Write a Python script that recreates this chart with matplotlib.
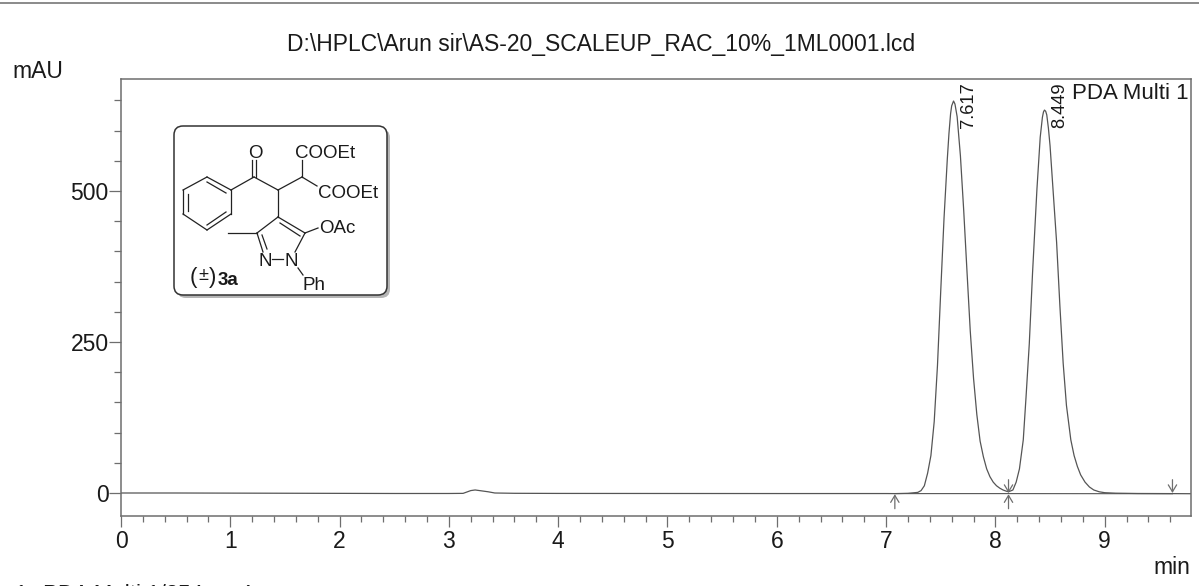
import numpy as np
import matplotlib
matplotlib.use("Agg")
import matplotlib.pyplot as plt
from matplotlib.patches import FancyBboxPatch
from matplotlib.lines import Line2D
from matplotlib.transforms import Affine2D

plt.rcParams['font.family'] = ['Liberation Sans', 'DejaVu Sans']

W, H = 1199, 586
GREY = '#6e6e6e'
TXT = '#1a1a1a'

# chromatogram: time (min), signal (mAU)
time_min = [0.0, 0.5, 1.0, 1.5, 2.0, 2.5, 3.0, 3.13, 3.17, 3.2, 3.24, 3.3, 3.36, 3.42, 3.6, 4.0, 5.0, 6.0, 7.0,
            7.08, 7.2, 7.29, 7.32, 7.35, 7.38, 7.41, 7.44, 7.47, 7.50, 7.53, 7.56, 7.575, 7.59, 7.60, 7.617,
            7.63, 7.65, 7.68, 7.71, 7.74, 7.77, 7.80, 7.83, 7.86, 7.89, 7.92, 7.95, 7.98, 8.01, 8.04, 8.07, 8.10, 8.12,
            8.16, 8.19, 8.22, 8.255, 8.28, 8.31, 8.34, 8.38, 8.41, 8.43, 8.44, 8.449,
            8.46, 8.47, 8.485, 8.50, 8.53, 8.56, 8.59, 8.62, 8.65, 8.69, 8.72, 8.75, 8.78, 8.82, 8.86, 8.90, 8.95, 9.0,
            9.1, 9.3, 9.6, 9.79]
signal = [0, 0, -0.2, -0.4, -0.6, -0.8, -0.8, -0.6, 2, 4, 5, 3.5, 2, 0, -0.5, -0.7, -0.8, -0.9, -0.9,
          -1, -0.5, 1, 4, 12, 33, 62, 118, 211, 335, 455, 553, 595, 628, 641, 649,
          644, 623, 558, 468, 367, 268, 190, 130, 86, 60, 40, 27, 18, 12, 8, 5, 3, 2,
          5, 18, 40, 88, 158, 247, 365, 503, 589, 622, 631, 634,
          632, 626, 604, 575, 495, 415, 310, 215, 145, 88, 62, 44, 30, 18, 10, 5, 2, 0.5,
          -0.3, -0.8, -1, -1.2]

peak_labels = ['7.617', '8.449']
label_times = [7.755, 8.59]
label_base = 604
up_arrows = [7.08, 8.12]
down_arrows = [8.12, 9.62]
baseline_t = [7.08, 8.12, 9.62]
baseline_y = [-1, -1, -1.2]

xticks = [0, 1, 2, 3, 4, 5, 6, 7, 8, 9]
yticks = [0, 250, 500]

fig = plt.figure(figsize=(W / 100, H / 100), dpi=100)
ax = fig.add_axes([121 / W, 1 - 516 / H, 1070 / W, 437 / H])
ax.plot(time_min, signal, color='#555555', lw=0.9)
ax.plot(baseline_t, baseline_y, color='#555555', lw=0.8)
ax.set_xlim(0, 1070 / 109.3)
ax.set_ylim(-23 / 0.604, 414 / 0.604)

ax.set_xticks(xticks)
ax.set_xticks(np.arange(0, 9.8, 0.2), minor=True)
ax.set_yticks(yticks)
ax.set_yticks(np.arange(-0, 651, 50), minor=True)
ax.tick_params(which='major', width=0.9, color=GREY, labelsize=16.5, labelcolor=TXT)
ax.tick_params(which='minor', width=0.9, color=GREY)
ax.tick_params(axis='x', which='major', length=8, pad=2)
ax.tick_params(axis='x', which='minor', length=4.5)
ax.tick_params(axis='y', which='major', length=9, pad=0)
ax.tick_params(axis='y', which='minor', length=5)
for s in ax.spines.values():
    s.set_color(GREY)
    s.set_linewidth(1.1)

# integration marks
arrow = dict(arrowstyle='->,head_width=0.3,head_length=0.5', color=GREY, lw=0.9, shrinkA=0, shrinkB=0)
for t in up_arrows:
    ax.annotate('', xy=(t, -2), xytext=(t, -26), arrowprops=arrow)
for t in down_arrows:
    ax.annotate('', xy=(t, 0), xytext=(t, 22), arrowprops=arrow)

for t, lab in zip(label_times, peak_labels):
    ax.text(t, label_base, lab, rotation=90, ha='center', va='bottom', fontsize=13.2, color=TXT)

def px(x, y):
    return x / W, 1 - y / H

def ftext(x, y, s, **kw):
    kw.setdefault('fontsize', 16)
    kw.setdefault('color', TXT)
    kw.setdefault('ha', 'left')
    kw.setdefault('va', 'center')
    fig.text(*px(x, y), s, **kw)

ftext(1072, 94, 'PDA Multi 1', fontsize=16)
ftext(601, 44, 'D:\\HPLC\\Arun sir\\AS-20_SCALEUP_RAC_10%_1ML0001.lcd', ha='center', fontsize=16.5)
ftext(12, 71, 'mAU', fontsize=16.5)
ftext(1153, 568, 'min', fontsize=16.5)
ftext(14, 594, '1', fontsize=16)
ftext(43, 594, 'PDA Multi 1/254nm 4nm', fontsize=16)

# top rule of the page
fig.add_artist(Line2D([0, 1], [1 - 3 / H, 1 - 3 / H], color='#777777', lw=1.2))

# structure inset, in figure pixels
pix = Affine2D().scale(1, -1).translate(0, H)
shadow = FancyBboxPatch((177, 129), 213, 169, boxstyle='round,pad=0,rounding_size=9', fc='#b5b5b5', ec='none', transform=pix, zorder=3)
box = FancyBboxPatch((174, 126), 213, 169, boxstyle='round,pad=0,rounding_size=9', fc='white', ec='#333333', lw=1.1, transform=pix, zorder=4)
fig.add_artist(shadow)
fig.add_artist(box)

bonds = [
    # phenyl ring
    (183, 190, 207, 177), (207, 177, 231, 190), (231, 190, 231, 214), (231, 214, 207, 230), (207, 230, 183, 214), (183, 214, 183, 190),
    (188, 194, 188, 211), (207, 182, 226, 193), (207, 225, 226, 212),
    # ketone and chain
    (231, 190, 254, 177), (252, 177, 252, 160), (256, 177, 256, 160), (254, 177, 278, 190),
    (278, 190, 302, 177), (302, 177, 302, 160), (302, 177, 317, 186),
    (278, 190, 278, 217),
    # pyrazole
    (278, 217, 257, 233), (257, 233, 263, 252), (262, 235, 267, 249), (278, 217, 305, 233), (280, 223, 300, 236),
    (305, 233, 295, 252), (272, 259, 283, 259), (298, 268, 303, 275),
    (257, 233, 228, 233), (305, 233, 318, 228),
]
for x0, y0, x1, y1 in bonds:
    fig.add_artist(Line2D([x0, x1], [y0, y1], color='#222222', lw=0.9, transform=pix, zorder=5))

for x, y, s in [(248, 153, 'O'), (295, 153, 'COOEt'), (318, 194, 'COOEt'), (319, 229, 'OAc'), (258, 262, 'N'), (285, 262, 'N'), (302, 285, 'Ph')]:
    ftext(x, y, s, fontsize=13.5, zorder=6)
ftext(190, 277, '(', fontsize=16, zorder=6)
ftext(198, 275, '±', fontsize=13, zorder=6)
ftext(209, 277, ')', fontsize=16, zorder=6)
ftext(218, 281, '3a', fontsize=13.5, fontweight='bold', zorder=6)

fig.savefig('out.png', dpi=100)
